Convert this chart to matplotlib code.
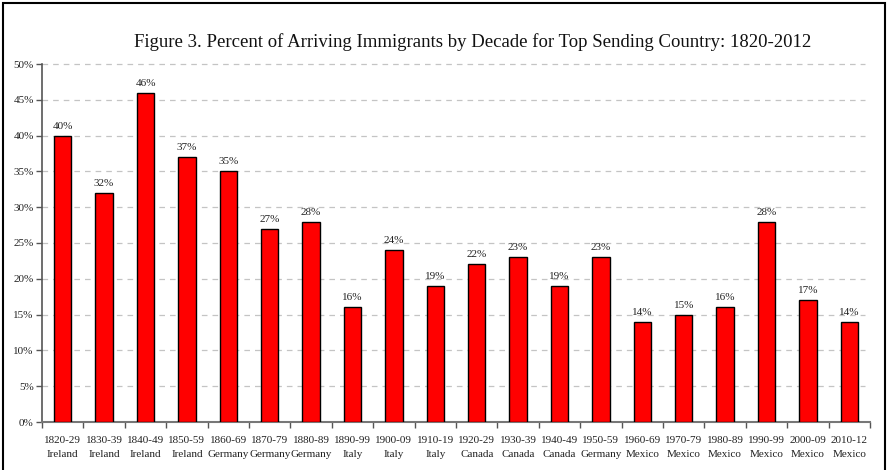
import matplotlib
matplotlib.use("Agg")
import matplotlib.pyplot as plt
from matplotlib.patches import Rectangle
import numpy as np

decades = ["1820-29", "1830-39", "1840-49", "1850-59", "1860-69", "1870-79", "1880-89",
           "1890-99", "1900-09", "1910-19", "1920-29", "1930-39", "1940-49", "1950-59",
           "1960-69", "1970-79", "1980-89", "1990-99", "2000-09", "2010-12"]
countries = ["Ireland", "Ireland", "Ireland", "Ireland", "Germany", "Germany", "Germany",
             "Italy", "Italy", "Italy", "Canada", "Canada", "Canada", "Germany",
             "Mexico", "Mexico", "Mexico", "Mexico", "Mexico", "Mexico"]
percents = [40, 32, 46, 37, 35, 27, 28, 16, 24, 19, 22, 23, 19, 23, 14, 15, 16, 28, 17, 14]
y_ticks = [0, 5, 10, 15, 20, 25, 30, 35, 40, 45, 50]

plt.rcParams['font.family'] = ['Liberation Serif', 'DejaVu Serif']

W, H = 888, 470
fig = plt.figure(figsize=(W / 100, H / 100), dpi=100)
ax = fig.add_axes([42 / W, 1 - 422 / H, (870 - 42) / W, (422 - 64) / H])

x = np.arange(len(decades))
ax.bar(x, percents, width=0.42, color="#ff0000", edgecolor="black", linewidth=1.0, zorder=3)
for xi, v in zip(x, percents):
    ax.text(xi, v + 0.7, f"{v}%", ha="center", va="bottom", fontsize=8, color="#222222")

ax.set_xlim(-0.5, len(decades) - 0.5)
ax.set_ylim(0, 50)
ax.set_yticks(y_ticks)
ax.set_yticklabels([f"{t}%" for t in y_ticks], fontsize=8, color="#222222")
for t in y_ticks[1:]:
    ax.plot([-0.5, len(decades) - 0.62], [t, t], color="#c4c4c4", linestyle=(0, (4.5, 4)),
            linewidth=0.9, zorder=1, clip_on=False)

ax.set_xticks(np.arange(len(decades) + 1) - 0.5)
ax.set_xticklabels([])
ax.set_xticks(x, minor=True)
ax.set_xticklabels([f"{d}\n{c}" for d, c in zip(decades, countries)], minor=True,
                   fontsize=8, color="#222222", linespacing=1.75)
ax.tick_params(axis="x", which="minor", length=0, pad=10)
ax.tick_params(axis="x", which="major", length=4, width=1, color="#555555", direction="out")
ax.tick_params(axis="y", length=4, width=1, color="#555555", direction="out", pad=2)

for s in ["top", "right"]:
    ax.spines[s].set_visible(False)
ax.spines["left"].set_color("#555555")
ax.spines["bottom"].set_color("#777777")
ax.spines["left"].set_linewidth(1.2)
ax.spines["bottom"].set_linewidth(1.5)

fig.text(473 / W, 1 - 42 / H, "Figure 3. Percent of Arriving Immigrants by Decade for Top Sending Country: 1820-2012",
         ha="center", va="center", fontsize=13.5, color="#111111")

fig.patches.append(Rectangle((3 / W, -0.05), (885 - 3) / W, 1 - 3 / H + 0.05,
                             transform=fig.transFigure, fill=False, edgecolor="black",
                             linewidth=1.5))

fig.savefig("out.png", dpi=100)
